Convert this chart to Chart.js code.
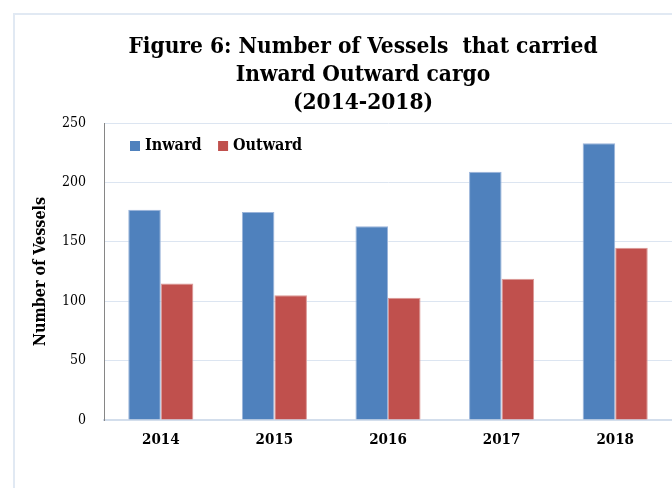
<!DOCTYPE html>
<html><head><meta charset="utf-8">
<script src="https://cdn.jsdelivr.net/npm/chart.js@4"></script>
<style>
html,body{margin:0;padding:0;background:#fff;overflow:hidden;}
#wrap{position:relative;width:672px;height:488px;}
#frame{position:absolute;left:13px;top:13px;width:700px;height:520px;border-left:2px solid #e1e9f3;border-top:2px solid #e1e9f3;pointer-events:none;}
canvas{position:absolute;left:0;top:0;}
</style></head><body>
<div id="wrap"><canvas id="c" width="672" height="488"></canvas><div id="frame"></div></div>
<script>
const categories = ['2014', '2015', '2016', '2017', '2018'];
const inward = [177, 175, 163, 209, 233];
const outward = [115, 105, 103, 119, 145];
const yTicks = [0, 50, 100, 150, 200, 250];
const seriesNames = ['Inward', 'Outward'];
const titleLines = ['Figure 6: Number of Vessels  that carried', 'Inward Outward cargo', '(2014-2018)'];
const yAxisTitle = 'Number of Vessels';

const SERIF = "'DejaVu Serif Condensed', 'DejaVu Serif', serif";

const placer = {
  id: 'placer',
  afterLayout(chart) {
    const t = chart.titleBlock;
    if (t) { t.left += 54; }
    const lg = chart.legend;
    if (lg) {
      lg.left = 113.5; lg.right = 560;
      lg.top = 118.5; lg.bottom = 180;
      lg.width = lg.right - lg.left; lg.height = lg.bottom - lg.top;
    }
  }
};

new Chart(document.getElementById('c'), {
  type: 'bar',
  data: {
    labels: categories,
    datasets: [
      { label: seriesNames[0], data: inward, backgroundColor: '#4f81bd', borderColor: '#9ab4da', borderWidth: 1 },
      { label: seriesNames[1], data: outward, backgroundColor: '#c0504d', borderColor: '#dc9896', borderWidth: 1 }
    ]
  },
  options: {
    responsive: false,
    animation: false,
    devicePixelRatio: 1,
    layout: { padding: 0 },
    datasets: { bar: { categoryPercentage: 0.573, barPercentage: 1 } },
    plugins: {
      tooltip: { enabled: false },
      title: {
        display: true,
        text: titleLines,
        color: '#000',
        font: { family: SERIF, size: 22.5, weight: 'bold', lineHeight: '28px' },
        padding: { top: 33, bottom: 5 }
      },
      legend: {
        display: true,
        position: 'top',
        align: 'start',
        maxHeight: 1,
        labels: {
          color: '#000',
          font: { family: SERIF, size: 16, weight: 'bold' },
          usePointStyle: true, pointStyle: 'rect',
          boxWidth: 4, boxHeight: 10, padding: 19.5,
          generateLabels(chart) {
            const items = Chart.defaults.plugins.legend.labels.generateLabels(chart);
            items.forEach(i => { i.lineWidth = 0; i.pointStyle = 'rect'; });
            return items;
          }
        }
      }
    },
    scales: {
      x: {
        grid: { display: false, drawTicks: false },
        border: { display: true, color: '#d3deec', width: 2 },
        ticks: { color: '#000', padding: 11, font: { family: SERIF, size: 15, weight: 'bold' } },
        afterFit(s) { s.height = 68; }
      },
      y: {
        min: yTicks[0], max: yTicks[yTicks.length - 1],
        grid: { color: '#dce5f1', lineWidth: 1, drawTicks: false },
        border: { display: true, color: '#868686', width: 1 },
        ticks: { color: '#000', padding: 18, stepSize: yTicks[1] - yTicks[0], font: { family: SERIF, size: 14 } },
        title: { display: true, text: yAxisTitle, color: '#000', padding: { top: 31, bottom: 0 }, font: { family: SERIF, size: 16, weight: 'bold' } },
        afterFit(s) { s.width = 104; }
      }
    }
  },
  plugins: [placer]
});
</script>
</body></html>
